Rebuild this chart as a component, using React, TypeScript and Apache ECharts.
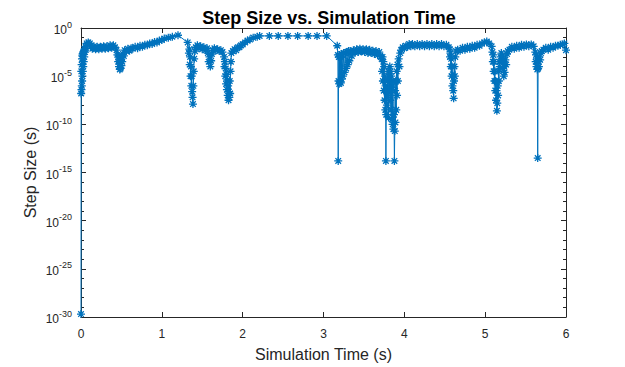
import React, { useEffect, useRef } from "react";
import * as echarts from "echarts";

// Each entry: [simulation time (s), log10(step size in s)]
const startup: number[][] = [
  [0, -29.7], [0.002, -6.8], [0.004, -4.5], [0.006, -6.4], [0.008, -3.8], [0.01, -6.0],
  [0.012, -3.2], [0.014, -5.5], [0.016, -2.9], [0.018, -5.0], [0.02, -2.7], [0.022, -4.5],
  [0.025, -2.6], [0.028, -4.0], [0.031, -2.5], [0.034, -3.5], [0.037, -2.4], [0.04, -3.0],
  [0.045, -2.2], [0.05, -2.5], [0.055, -1.9], [0.06, -2.1], [0.07, -1.6], [0.08, -1.8],
  [0.09, -1.5], [0.1, -1.7], [0.11, -1.6], [0.12, -1.9],
];
const plateau1: number[][] = [
  [0.14, -2.15], [0.16, -1.9], [0.18, -2.2], [0.2, -1.95], [0.22, -2.2], [0.24, -1.95],
  [0.26, -2.15], [0.28, -1.9], [0.3, -2.15], [0.32, -1.9], [0.34, -2.1], [0.36, -1.8],
  [0.38, -2.05], [0.4, -1.8], [0.42, -2.0], [0.44, -2.3],
];
const dip1: number[][] = [
  [0.45, -2.8], [0.46, -3.5], [0.465, -2.9], [0.47, -4.0], [0.475, -3.3], [0.48, -4.3],
  [0.485, -3.6], [0.49, -4.2], [0.495, -3.4], [0.5, -3.9], [0.505, -3.0], [0.51, -3.5],
  [0.52, -2.7], [0.53, -2.9], [0.54, -2.3],
];
const rise1: number[][] = [
  [0.56, -2.4], [0.58, -2.15], [0.6, -2.35], [0.62, -2.1], [0.64, -2.15], [0.67, -1.95],
  [0.7, -2.1], [0.73, -1.85], [0.76, -1.95], [0.79, -1.75], [0.82, -1.8], [0.85, -1.6],
  [0.88, -1.65], [0.91, -1.45], [0.94, -1.5], [0.97, -1.3], [1.0, -1.25], [1.03, -1.1],
  [1.08, -1.0], [1.13, -0.9], [1.2, -0.75], [1.32, -1.5],
];
const dip2: number[][] = [
  [1.335, -2.6], [1.34, -2.2], [1.345, -3.8], [1.35, -3.0], [1.355, -5.0], [1.36, -4.0],
  [1.365, -6.0], [1.37, -5.0], [1.375, -6.6], [1.38, -7.2], [1.385, -7.9], [1.39, -6.0],
  [1.395, -4.5], [1.4, -3.2], [1.41, -2.4], [1.42, -2.0],
];
const plateau2: number[][] = [
  [1.44, -1.8], [1.46, -2.1], [1.48, -1.9], [1.5, -2.2], [1.52, -2.0], [1.54, -2.3], [1.56, -2.1],
];
const dip3: number[][] = [
  [1.57, -2.6], [1.58, -3.5], [1.59, -3.0], [1.6, -4.0], [1.61, -3.4], [1.62, -2.7], [1.63, -2.3],
];
const plateau3: number[][] = [
  [1.65, -2.1], [1.67, -2.3], [1.69, -2.2], [1.71, -2.4], [1.73, -2.3], [1.75, -2.5],
];
const dip4: number[][] = [
  [1.77, -3.0], [1.775, -4.0], [1.78, -3.5], [1.785, -5.0], [1.79, -4.2], [1.795, -5.8],
  [1.8, -4.8], [1.805, -6.4], [1.81, -5.4], [1.815, -7.0], [1.82, -6.0], [1.825, -7.5],
  [1.83, -6.6], [1.835, -7.2], [1.84, -5.5], [1.845, -6.8], [1.85, -4.5], [1.855, -3.5],
  [1.86, -2.6],
];
const rise2: number[][] = [
  [1.88, -2.4], [1.9, -2.2], [1.92, -2.3], [1.94, -2.0], [1.96, -2.0], [1.98, -1.8],
  [2.0, -1.7], [2.03, -1.5], [2.06, -1.3], [2.09, -1.2], [2.13, -1.0], [2.18, -0.9],
];
const flatTop: number[][] = [
  [2.21, -0.82], [2.33, -0.82], [2.44, -0.82], [2.56, -0.82], [2.68, -0.82], [2.81, -0.82],
  [2.92, -0.82], [3.04, -0.82], [3.17, -1.84],
];
const burst1: number[][] = [
  [3.178, -2.8], [3.182, -13.8], [3.186, -5.5], [3.19, -3.0], [3.195, -5.8], [3.2, -2.8],
  [3.205, -5.6], [3.21, -3.0], [3.215, -5.7], [3.22, -2.7], [3.225, -5.3], [3.23, -2.8],
  [3.24, -5.0], [3.25, -2.6], [3.26, -4.6], [3.27, -2.6], [3.28, -4.2], [3.29, -2.5],
  [3.3, -3.8], [3.31, -2.4], [3.32, -3.4], [3.33, -2.4], [3.35, -2.9],
];
const plateau4: number[][] = [
  [3.37, -2.3], [3.39, -2.55], [3.41, -2.2], [3.43, -2.5], [3.45, -2.15], [3.47, -2.45],
  [3.49, -2.2], [3.51, -2.5], [3.53, -2.2], [3.55, -2.6], [3.57, -2.25], [3.59, -2.6],
  [3.61, -2.35], [3.63, -2.7], [3.65, -2.4], [3.67, -2.8], [3.69, -2.5], [3.71, -3.0],
];
const burst2: number[][] = [
  [3.72, -3.2], [3.725, -4.5], [3.73, -3.0], [3.735, -5.5], [3.74, -3.5], [3.745, -6.5],
  [3.75, -4.0], [3.755, -7.5], [3.76, -5.0], [3.765, -8.5], [3.768, -6.0], [3.772, -13.8],
  [3.776, -9.0], [3.78, -6.5], [3.785, -8.0], [3.79, -5.5], [3.795, -7.0], [3.8, -4.5],
  [3.805, -9.3], [3.81, -5.0], [3.815, -6.5], [3.82, -4.0], [3.825, -7.5], [3.83, -4.5],
  [3.835, -8.5], [3.84, -5.0], [3.845, -9.5], [3.85, -5.5], [3.855, -10.0], [3.86, -6.0],
  [3.865, -10.5], [3.872, -9.0], [3.877, -13.8], [3.882, -10.7], [3.886, -6.5], [3.89, -9.8],
  [3.895, -5.5], [3.9, -8.5], [3.905, -4.5], [3.91, -7.0], [3.915, -3.8], [3.92, -5.5],
  [3.93, -3.2], [3.94, -4.0], [3.95, -2.6],
];
const plateau5: number[][] = [
  [3.96, -2.3], [3.98, -2.0], [4.0, -2.1], [4.02, -1.85], [4.04, -1.95], [4.06, -1.65],
  [4.08, -1.9], [4.1, -1.65], [4.13, -1.9], [4.16, -1.65], [4.19, -1.9], [4.22, -1.65],
  [4.25, -1.9], [4.28, -1.65], [4.31, -1.9], [4.34, -1.65], [4.37, -1.9], [4.4, -1.65],
  [4.43, -1.9], [4.46, -1.65], [4.49, -1.9], [4.52, -1.75], [4.55, -2.0],
];
const dip5: number[][] = [
  [4.56, -2.2], [4.565, -3.0], [4.57, -2.6], [4.575, -4.0], [4.58, -3.2], [4.585, -5.0],
  [4.59, -4.0], [4.595, -6.0], [4.6, -4.8], [4.605, -6.5], [4.61, -7.3], [4.615, -5.5],
  [4.62, -4.0], [4.625, -5.0], [4.63, -3.0], [4.64, -2.4],
];
const rise3: number[][] = [
  [4.66, -2.25], [4.69, -2.35], [4.72, -2.05], [4.75, -2.25], [4.78, -1.95], [4.81, -2.15],
  [4.84, -1.85], [4.87, -2.05], [4.9, -1.75], [4.93, -1.85], [4.96, -1.6], [4.99, -1.5],
  [5.02, -1.4], [5.05, -1.6], [5.08, -1.9],
];
const dip6: number[][] = [
  [5.09, -2.5], [5.095, -3.5], [5.1, -2.8], [5.105, -4.5], [5.11, -3.5], [5.115, -5.5],
  [5.12, -4.5], [5.125, -6.5], [5.13, -5.5], [5.135, -7.5], [5.14, -6.5], [5.145, -8.6],
  [5.15, -7.8], [5.155, -6.0], [5.16, -7.0], [5.165, -4.5], [5.17, -5.5], [5.175, -3.5],
  [5.18, -4.0], [5.19, -3.0], [5.2, -2.6], [5.21, -3.4], [5.215, -2.9], [5.22, -4.2],
  [5.225, -3.5], [5.23, -5.0], [5.235, -4.0], [5.24, -4.6], [5.25, -3.3], [5.26, -3.8],
  [5.27, -2.7], [5.28, -2.4],
];
const plateau6: number[][] = [
  [5.3, -2.25], [5.33, -1.95], [5.36, -2.15], [5.39, -1.85], [5.42, -2.05], [5.45, -1.75],
  [5.48, -1.95], [5.51, -1.7], [5.54, -1.9], [5.57, -1.7], [5.6, -1.9],
];
const dip7: number[][] = [
  [5.62, -2.5], [5.625, -3.5], [5.63, -2.8], [5.635, -4.0], [5.64, -3.2], [5.645, -4.3],
  [5.65, -13.5], [5.655, -4.2], [5.66, -3.5], [5.665, -4.0], [5.67, -3.0], [5.68, -3.3],
  [5.69, -2.6], [5.7, -2.4],
];
const ending: number[][] = [
  [5.72, -2.25], [5.75, -2.05], [5.78, -2.25], [5.81, -1.95], [5.84, -2.05], [5.87, -1.85],
  [5.9, -1.85], [5.93, -1.75], [5.96, -1.7], [5.98, -1.6], [6.0, -2.3],
];

const xTicks = [0, 1, 2, 3, 4, 5, 6];
const yTickExps = [-30, -25, -20, -15, -10, -5, 0];

const stepData = [
  ...startup, ...plateau1, ...dip1, ...rise1, ...dip2, ...plateau2, ...dip3, ...plateau3,
  ...dip4, ...rise2, ...flatTop, ...burst1, ...plateau4, ...burst2, ...plateau5, ...dip5,
  ...rise3, ...dip6, ...plateau6, ...dip7, ...ending,
];

const BLUE = "#0072BD";
const AX = "#262626";
const FONT = "Liberation Sans, Arial, Helvetica, sans-serif";
const STAR = "path://M0,5L10,5M5,0L5,10M1.5,1.5L8.5,8.5M1.5,8.5L8.5,1.5";

export default function App() {
  const ref = useRef<HTMLDivElement>(null);
  useEffect(() => {
    if (!ref.current) return;
    document.body.style.margin = "0";
    const chart = echarts.init(ref.current, undefined, { renderer: "svg" });
    const axisLine = { show: true, onZero: false, lineStyle: { color: AX, width: 1 } };
    const xCommon = {
      type: "value" as const,
      min: xTicks[0],
      max: xTicks[xTicks.length - 1],
      interval: 1,
      axisLine,
      splitLine: { show: false },
    };
    const yCommon = {
      type: "value" as const,
      min: yTickExps[0],
      max: yTickExps[yTickExps.length - 1],
      interval: 5,
      axisLine,
      splitLine: { show: false },
      minorTick: { show: true, splitNumber: 5, length: 3, lineStyle: { color: AX } },
    };
    chart.setOption({
      animation: false,
      title: {
        text: "Step Size vs. Simulation Time",
        left: 324,
        textAlign: "center",
        top: 4,
        textStyle: { fontFamily: FONT, fontSize: 18, fontWeight: "bold", color: "#000" },
      },
      grid: { left: 81, right: 59, top: 28, bottom: 45, containLabel: false },
      xAxis: [
        {
          ...xCommon,
          position: "bottom",
          axisTick: { show: true, inside: true, length: 5, lineStyle: { color: AX } },
          axisLabel: { color: AX, fontSize: 12, fontFamily: FONT, margin: 11 },
          name: "Simulation Time (s)",
          nameLocation: "middle",
          nameGap: 29,
          nameTextStyle: { color: AX, fontSize: 16, fontFamily: FONT },
        },
        {
          ...xCommon,
          position: "top",
          axisTick: { show: true, inside: true, length: 5, lineStyle: { color: AX } },
          axisLabel: { show: false },
        },
      ],
      yAxis: [
        {
          ...yCommon,
          position: "left",
          axisTick: { show: true, inside: true, length: 5, lineStyle: { color: AX } },
          axisLabel: {
            margin: 9,
            formatter: (v: number) => `{b|10}{s|${v}}`,
            rich: {
              b: { fontSize: 12, color: AX, fontFamily: FONT, verticalAlign: "bottom", lineHeight: 16 },
              s: { fontSize: 9, color: AX, fontFamily: FONT, verticalAlign: "top", lineHeight: 10 },
            },
          },
          name: "Step Size (s)",
          nameLocation: "middle",
          nameGap: 43,
          nameMoveOverlap: false,
          nameTextStyle: { color: AX, fontSize: 16, fontFamily: FONT },
        },
        {
          ...yCommon,
          position: "right",
          axisTick: { show: true, inside: true, length: 5, lineStyle: { color: AX } },
          axisLabel: { show: false },
        },
      ],
      series: [
        {
          type: "line",
          data: stepData,
          xAxisIndex: 0,
          yAxisIndex: 0,
          symbol: STAR,
          symbolSize: 8,
          showAllSymbol: true,
          lineStyle: { color: BLUE, width: 1 },
          itemStyle: { color: "none", borderColor: BLUE, borderWidth: 1.3 },
          emphasis: { disabled: true },
        },
      ],
    });
    return () => chart.dispose();
  }, []);
  return <div ref={ref} style={{ width: 625, height: 367 }} />;
}
